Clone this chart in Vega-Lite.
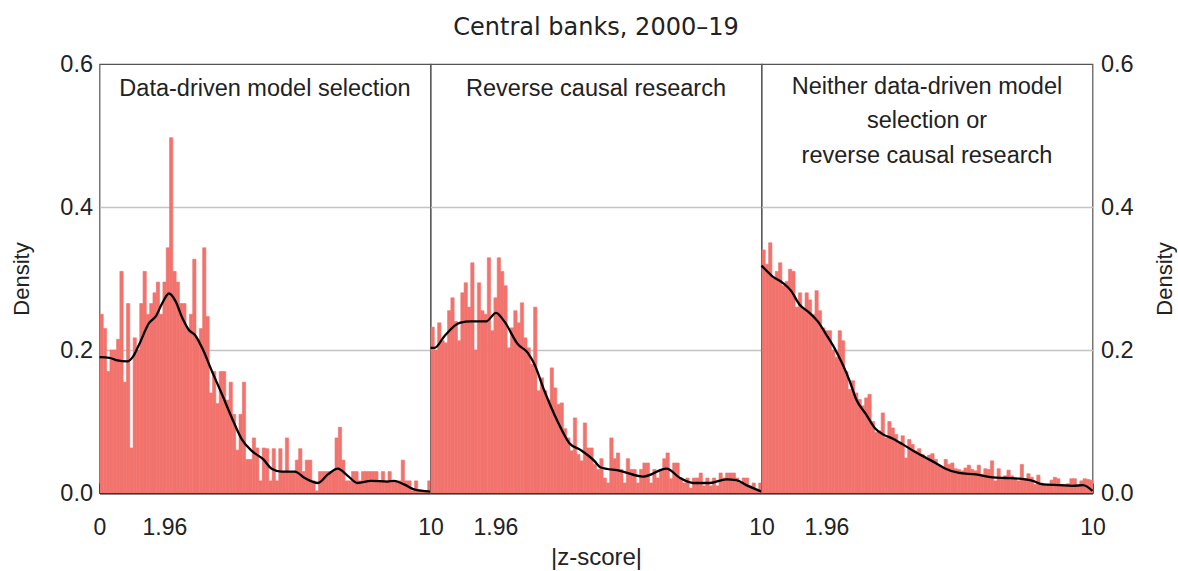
{
"$schema": "https://vega.github.io/schema/vega-lite/v6.json",
"padding": {"left": 9.5, "top": 16, "right": 0, "bottom": 0},
"background": "white",
"bounds": "flush",
"title": {"text": "Central banks, 2000–19", "font": "DejaVu Sans", "fontSize": 24, "fontWeight": "normal", "color": "#222", "anchor": "middle", "offset": 11, "dx": 3},
"spacing": 0,
"config": {"view": {"stroke": "#555", "strokeWidth": 1.2}, "font": "Liberation Sans", "axis": {"labelColor": "#222", "titleColor": "#222", "labelFont": "Liberation Sans", "titleFont": "Liberation Sans"}},
"datasets": {
"bars": [
{"p":"A","z":0.0,"d":0.25},{"p":"A","z":0.1,"d":0.23},{"p":"A","z":0.2,"d":0.17},{"p":"A","z":0.3,"d":0.2},{"p":"A","z":0.4,"d":0.2},{"p":"A","z":0.5,"d":0.215},{"p":"A","z":0.6,"d":0.31},{"p":"A","z":0.7,"d":0.155},{"p":"A","z":0.8,"d":0.265},{"p":"A","z":0.9,"d":0.063},
{"p":"A","z":1.0,"d":0.217},{"p":"A","z":1.1,"d":0.2},{"p":"A","z":1.2,"d":0.265},{"p":"A","z":1.3,"d":0.31},{"p":"A","z":1.4,"d":0.25},{"p":"A","z":1.5,"d":0.265},{"p":"A","z":1.6,"d":0.28},{"p":"A","z":1.7,"d":0.295},{"p":"A","z":1.8,"d":0.25},{"p":"A","z":1.9,"d":0.295},
{"p":"A","z":2.0,"d":0.343},{"p":"A","z":2.1,"d":0.497},{"p":"A","z":2.2,"d":0.31},{"p":"A","z":2.3,"d":0.295},{"p":"A","z":2.4,"d":0.265},{"p":"A","z":2.5,"d":0.265},{"p":"A","z":2.6,"d":0.23},{"p":"A","z":2.7,"d":0.25},{"p":"A","z":2.8,"d":0.327},{"p":"A","z":2.9,"d":0.215},
{"p":"A","z":3.0,"d":0.23},{"p":"A","z":3.1,"d":0.343},{"p":"A","z":3.2,"d":0.247},{"p":"A","z":3.3,"d":0.14},{"p":"A","z":3.4,"d":0.17},{"p":"A","z":3.5,"d":0.125},{"p":"A","z":3.6,"d":0.17},{"p":"A","z":3.7,"d":0.17},{"p":"A","z":3.8,"d":0.13},{"p":"A","z":3.9,"d":0.155},
{"p":"A","z":4.0,"d":0.11},{"p":"A","z":4.1,"d":0.06},{"p":"A","z":4.2,"d":0.11},{"p":"A","z":4.3,"d":0.155},{"p":"A","z":4.4,"d":0.047},{"p":"A","z":4.5,"d":0.047},{"p":"A","z":4.6,"d":0.077},{"p":"A","z":4.7,"d":0.063},{"p":"A","z":4.8,"d":0.017},{"p":"A","z":4.9,"d":0.063},
{"p":"A","z":5.0,"d":0.062},{"p":"A","z":5.1,"d":0.017},{"p":"A","z":5.2,"d":0.062},{"p":"A","z":5.3,"d":0.017},{"p":"A","z":5.4,"d":0.062},{"p":"A","z":5.5,"d":0.03},{"p":"A","z":5.6,"d":0.077},{"p":"A","z":5.7,"d":0.03},{"p":"A","z":5.8,"d":0.03},{"p":"A","z":5.9,"d":0.046},
{"p":"A","z":6.0,"d":0.062},{"p":"A","z":6.1,"d":0.03},{"p":"A","z":6.2,"d":0.046},{"p":"A","z":6.3,"d":0.046},{"p":"A","z":6.4,"d":0.017},{"p":"A","z":6.5,"d":0.003},{"p":"A","z":6.6,"d":0.03},{"p":"A","z":6.7,"d":0.03},{"p":"A","z":6.8,"d":0.03},{"p":"A","z":6.9,"d":0.03},
{"p":"A","z":7.0,"d":0.03},{"p":"A","z":7.1,"d":0.077},{"p":"A","z":7.2,"d":0.092},{"p":"A","z":7.3,"d":0.046},{"p":"A","z":7.4,"d":0.017},{"p":"A","z":7.5,"d":0.017},{"p":"A","z":7.6,"d":0.03},{"p":"A","z":7.7,"d":0.03},{"p":"A","z":7.8,"d":0.017},{"p":"A","z":7.9,"d":0.03},
{"p":"A","z":8.0,"d":0.03},{"p":"A","z":8.1,"d":0.03},{"p":"A","z":8.2,"d":0.03},{"p":"A","z":8.3,"d":0.03},{"p":"A","z":8.4,"d":0.017},{"p":"A","z":8.5,"d":0.03},{"p":"A","z":8.6,"d":0.017},{"p":"A","z":8.7,"d":0.03},{"p":"A","z":8.8,"d":0.017},{"p":"A","z":8.9,"d":0.017},
{"p":"A","z":9.0,"d":0.017},{"p":"A","z":9.1,"d":0.046},{"p":"A","z":9.2,"d":0.017},{"p":"A","z":9.3,"d":0.017},{"p":"A","z":9.4,"d":0.003},{"p":"A","z":9.5,"d":0.017},{"p":"A","z":9.6,"d":0.003},{"p":"A","z":9.7,"d":0.003},{"p":"A","z":9.8,"d":0.003},{"p":"A","z":9.9,"d":0.017},
{"p":"B","z":0.0,"d":0.232},{"p":"B","z":0.1,"d":0.2},{"p":"B","z":0.2,"d":0.238},{"p":"B","z":0.3,"d":0.213},{"p":"B","z":0.4,"d":0.21},{"p":"B","z":0.5,"d":0.255},{"p":"B","z":0.6,"d":0.273},{"p":"B","z":0.7,"d":0.24},{"p":"B","z":0.8,"d":0.213},{"p":"B","z":0.9,"d":0.28},
{"p":"B","z":1.0,"d":0.294},{"p":"B","z":1.1,"d":0.26},{"p":"B","z":1.2,"d":0.322},{"p":"B","z":1.3,"d":0.2},{"p":"B","z":1.4,"d":0.294},{"p":"B","z":1.5,"d":0.255},{"p":"B","z":1.6,"d":0.25},{"p":"B","z":1.7,"d":0.329},{"p":"B","z":1.8,"d":0.227},{"p":"B","z":1.9,"d":0.273},
{"p":"B","z":2.0,"d":0.329},{"p":"B","z":2.1,"d":0.31},{"p":"B","z":2.2,"d":0.29},{"p":"B","z":2.3,"d":0.203},{"p":"B","z":2.4,"d":0.231},{"p":"B","z":2.5,"d":0.255},{"p":"B","z":2.6,"d":0.238},{"p":"B","z":2.7,"d":0.266},{"p":"B","z":2.8,"d":0.217},{"p":"B","z":2.9,"d":0.203},
{"p":"B","z":3.0,"d":0.18},{"p":"B","z":3.1,"d":0.26},{"p":"B","z":3.2,"d":0.143},{"p":"B","z":3.3,"d":0.161},{"p":"B","z":3.4,"d":0.143},{"p":"B","z":3.5,"d":0.13},{"p":"B","z":3.6,"d":0.175},{"p":"B","z":3.7,"d":0.147},{"p":"B","z":3.8,"d":0.124},{"p":"B","z":3.9,"d":0.126},
{"p":"B","z":4.0,"d":0.09},{"p":"B","z":4.1,"d":0.077},{"p":"B","z":4.2,"d":0.059},{"p":"B","z":4.3,"d":0.105},{"p":"B","z":4.4,"d":0.054},{"p":"B","z":4.5,"d":0.045},{"p":"B","z":4.6,"d":0.098},{"p":"B","z":4.7,"d":0.063},{"p":"B","z":4.8,"d":0.063},{"p":"B","z":4.9,"d":0.04},
{"p":"B","z":5.0,"d":0.033},{"p":"B","z":5.1,"d":0.048},{"p":"B","z":5.2,"d":0.021},{"p":"B","z":5.3,"d":0.014},{"p":"B","z":5.4,"d":0.077},{"p":"B","z":5.5,"d":0.048},{"p":"B","z":5.6,"d":0.056},{"p":"B","z":5.7,"d":0.033},{"p":"B","z":5.8,"d":0.014},{"p":"B","z":5.9,"d":0.048},
{"p":"B","z":6.0,"d":0.033},{"p":"B","z":6.1,"d":0.033},{"p":"B","z":6.2,"d":0.014},{"p":"B","z":6.3,"d":0.033},{"p":"B","z":6.4,"d":0.042},{"p":"B","z":6.5,"d":0.042},{"p":"B","z":6.6,"d":0.014},{"p":"B","z":6.7,"d":0.033},{"p":"B","z":6.8,"d":0.021},{"p":"B","z":6.9,"d":0.033},
{"p":"B","z":7.0,"d":0.048},{"p":"B","z":7.1,"d":0.056},{"p":"B","z":7.2,"d":0.02},{"p":"B","z":7.3,"d":0.042},{"p":"B","z":7.4,"d":0.042},{"p":"B","z":7.5,"d":0.021},{"p":"B","z":7.6,"d":0.014},{"p":"B","z":7.7,"d":0.021},{"p":"B","z":7.8,"d":0.007},{"p":"B","z":7.9,"d":0.021},
{"p":"B","z":8.0,"d":0.021},{"p":"B","z":8.1,"d":0.028},{"p":"B","z":8.2,"d":0.01},{"p":"B","z":8.3,"d":0.021},{"p":"B","z":8.4,"d":0.01},{"p":"B","z":8.5,"d":0.021},{"p":"B","z":8.6,"d":0.01},{"p":"B","z":8.7,"d":0.028},{"p":"B","z":8.8,"d":0.021},{"p":"B","z":8.9,"d":0.028},
{"p":"B","z":9.0,"d":0.028},{"p":"B","z":9.1,"d":0.028},{"p":"B","z":9.2,"d":0.021},{"p":"B","z":9.3,"d":0.014},{"p":"B","z":9.4,"d":0.021},{"p":"B","z":9.5,"d":0.021},{"p":"B","z":9.6,"d":0.01},{"p":"B","z":9.7,"d":0.014},{"p":"B","z":9.8,"d":0.005},{"p":"B","z":9.9,"d":0.014},
{"p":"C","z":0.0,"d":0.34},{"p":"C","z":0.1,"d":0.32},{"p":"C","z":0.2,"d":0.35},{"p":"C","z":0.3,"d":0.3},{"p":"C","z":0.4,"d":0.31},{"p":"C","z":0.5,"d":0.322},{"p":"C","z":0.6,"d":0.29},{"p":"C","z":0.7,"d":0.296},{"p":"C","z":0.8,"d":0.313},{"p":"C","z":0.9,"d":0.31},
{"p":"C","z":1.0,"d":0.26},{"p":"C","z":1.1,"d":0.28},{"p":"C","z":1.2,"d":0.257},{"p":"C","z":1.3,"d":0.28},{"p":"C","z":1.4,"d":0.27},{"p":"C","z":1.5,"d":0.25},{"p":"C","z":1.6,"d":0.283},{"p":"C","z":1.7,"d":0.255},{"p":"C","z":1.8,"d":0.231},{"p":"C","z":1.9,"d":0.227},
{"p":"C","z":2.0,"d":0.227},{"p":"C","z":2.1,"d":0.2},{"p":"C","z":2.2,"d":0.19},{"p":"C","z":2.3,"d":0.227},{"p":"C","z":2.4,"d":0.213},{"p":"C","z":2.5,"d":0.17},{"p":"C","z":2.6,"d":0.145},{"p":"C","z":2.7,"d":0.157},{"p":"C","z":2.8,"d":0.14},{"p":"C","z":2.9,"d":0.131},
{"p":"C","z":3.0,"d":0.122},{"p":"C","z":3.1,"d":0.133},{"p":"C","z":3.2,"d":0.138},{"p":"C","z":3.3,"d":0.1},{"p":"C","z":3.4,"d":0.085},{"p":"C","z":3.5,"d":0.087},{"p":"C","z":3.6,"d":0.112},{"p":"C","z":3.7,"d":0.077},{"p":"C","z":3.8,"d":0.1},{"p":"C","z":3.9,"d":0.091},
{"p":"C","z":4.0,"d":0.082},{"p":"C","z":4.1,"d":0.07},{"p":"C","z":4.2,"d":0.08},{"p":"C","z":4.3,"d":0.049},{"p":"C","z":4.4,"d":0.075},{"p":"C","z":4.5,"d":0.068},{"p":"C","z":4.6,"d":0.059},{"p":"C","z":4.7,"d":0.062},{"p":"C","z":4.8,"d":0.054},{"p":"C","z":4.9,"d":0.05},
{"p":"C","z":5.0,"d":0.053},{"p":"C","z":5.1,"d":0.055},{"p":"C","z":5.2,"d":0.047},{"p":"C","z":5.3,"d":0.038},{"p":"C","z":5.4,"d":0.035},{"p":"C","z":5.5,"d":0.047},{"p":"C","z":5.6,"d":0.04},{"p":"C","z":5.7,"d":0.042},{"p":"C","z":5.8,"d":0.034},{"p":"C","z":5.9,"d":0.033},
{"p":"C","z":6.0,"d":0.031},{"p":"C","z":6.1,"d":0.035},{"p":"C","z":6.2,"d":0.039},{"p":"C","z":6.3,"d":0.033},{"p":"C","z":6.4,"d":0.031},{"p":"C","z":6.5,"d":0.039},{"p":"C","z":6.6,"d":0.026},{"p":"C","z":6.7,"d":0.034},{"p":"C","z":6.8,"d":0.033},{"p":"C","z":6.9,"d":0.045},
{"p":"C","z":7.0,"d":0.017},{"p":"C","z":7.1,"d":0.034},{"p":"C","z":7.2,"d":0.021},{"p":"C","z":7.3,"d":0.024},{"p":"C","z":7.4,"d":0.032},{"p":"C","z":7.5,"d":0.024},{"p":"C","z":7.6,"d":0.021},{"p":"C","z":7.7,"d":0.017},{"p":"C","z":7.8,"d":0.04},{"p":"C","z":7.9,"d":0.02},
{"p":"C","z":8.0,"d":0.027},{"p":"C","z":8.1,"d":0.022},{"p":"C","z":8.2,"d":0.012},{"p":"C","z":8.3,"d":0.025},{"p":"C","z":8.4,"d":0.014},{"p":"C","z":8.5,"d":0.012},{"p":"C","z":8.6,"d":0.012},{"p":"C","z":8.7,"d":0.018},{"p":"C","z":8.8,"d":0.022},{"p":"C","z":8.9,"d":0.02},
{"p":"C","z":9.0,"d":0.012},{"p":"C","z":9.1,"d":0.012},{"p":"C","z":9.2,"d":0.013},{"p":"C","z":9.3,"d":0.02},{"p":"C","z":9.4,"d":0.02},{"p":"C","z":9.5,"d":0.01},{"p":"C","z":9.6,"d":0.017},{"p":"C","z":9.7,"d":0.02},{"p":"C","z":9.8,"d":0.019},{"p":"C","z":9.9,"d":0.018}
],
"curve": [
{"p":"A","z":0,"d":0.19},{"p":"A","z":0.3,"d":0.189},{"p":"A","z":0.5,"d":0.186},{"p":"A","z":0.85,"d":0.184},{"p":"A","z":1.0,"d":0.19},{"p":"A","z":1.2,"d":0.208},{"p":"A","z":1.5,"d":0.238},{"p":"A","z":1.7,"d":0.247},{"p":"A","z":1.9,"d":0.266},{"p":"A","z":2.1,"d":0.279},{"p":"A","z":2.3,"d":0.268},{"p":"A","z":2.5,"d":0.245},{"p":"A","z":2.7,"d":0.228},{"p":"A","z":2.9,"d":0.22},{"p":"A","z":3.1,"d":0.203},{"p":"A","z":3.4,"d":0.17},{"p":"A","z":3.7,"d":0.138},{"p":"A","z":4.0,"d":0.105},{"p":"A","z":4.3,"d":0.075},{"p":"A","z":4.6,"d":0.059},{"p":"A","z":4.95,"d":0.047},{"p":"A","z":5.2,"d":0.034},{"p":"A","z":5.5,"d":0.03},{"p":"A","z":5.9,"d":0.03},{"p":"A","z":6.2,"d":0.021},{"p":"A","z":6.6,"d":0.014},{"p":"A","z":6.9,"d":0.026},{"p":"A","z":7.2,"d":0.034},{"p":"A","z":7.5,"d":0.024},{"p":"A","z":7.8,"d":0.014},{"p":"A","z":8.2,"d":0.017},{"p":"A","z":8.7,"d":0.016},{"p":"A","z":8.9,"d":0.017},{"p":"A","z":9.2,"d":0.012},{"p":"A","z":9.5,"d":0.005},{"p":"A","z":10,"d":0.002},
{"p":"B","z":0,"d":0.203},{"p":"B","z":0.12,"d":0.203},{"p":"B","z":0.43,"d":0.22},{"p":"B","z":0.88,"d":0.238},{"p":"B","z":1.23,"d":0.24},{"p":"B","z":1.68,"d":0.24},{"p":"B","z":1.98,"d":0.252},{"p":"B","z":2.23,"d":0.24},{"p":"B","z":2.64,"d":0.208},{"p":"B","z":2.94,"d":0.196},{"p":"B","z":3.14,"d":0.18},{"p":"B","z":3.44,"d":0.143},{"p":"B","z":3.84,"d":0.1},{"p":"B","z":4.19,"d":0.07},{"p":"B","z":4.54,"d":0.06},{"p":"B","z":4.95,"d":0.045},{"p":"B","z":5.13,"d":0.036},{"p":"B","z":5.73,"d":0.031},{"p":"B","z":6.43,"d":0.023},{"p":"B","z":7.13,"d":0.034},{"p":"B","z":7.54,"d":0.021},{"p":"B","z":7.94,"d":0.014},{"p":"B","z":8.44,"d":0.014},{"p":"B","z":8.94,"d":0.019},{"p":"B","z":9.24,"d":0.018},{"p":"B","z":9.54,"d":0.011},{"p":"B","z":10,"d":0.002},
{"p":"C","z":0,"d":0.318},{"p":"C","z":0.33,"d":0.303},{"p":"C","z":0.64,"d":0.294},{"p":"C","z":0.89,"d":0.283},{"p":"C","z":1.14,"d":0.264},{"p":"C","z":1.45,"d":0.252},{"p":"C","z":1.7,"d":0.24},{"p":"C","z":1.95,"d":0.222},{"p":"C","z":2.2,"d":0.203},{"p":"C","z":2.45,"d":0.18},{"p":"C","z":2.66,"d":0.157},{"p":"C","z":2.86,"d":0.131},{"p":"C","z":3.16,"d":0.11},{"p":"C","z":3.42,"d":0.091},{"p":"C","z":3.67,"d":0.082},{"p":"C","z":3.97,"d":0.076},{"p":"C","z":4.27,"d":0.068},{"p":"C","z":4.58,"d":0.059},{"p":"C","z":4.98,"d":0.049},{"p":"C","z":5.26,"d":0.042},{"p":"C","z":5.56,"d":0.034},{"p":"C","z":5.97,"d":0.028},{"p":"C","z":6.47,"d":0.026},{"p":"C","z":6.98,"d":0.022},{"p":"C","z":7.38,"d":0.021},{"p":"C","z":7.79,"d":0.02},{"p":"C","z":8.19,"d":0.017},{"p":"C","z":8.5,"d":0.012},{"p":"C","z":9.0,"d":0.011},{"p":"C","z":9.4,"d":0.01},{"p":"C","z":9.71,"d":0.011},{"p":"C","z":10,"d":0.003}
]
},
"hconcat": [
{
"width": 331, "height": 429,
"layer": [
{"data": {"name": "bars"}, "transform": [{"filter": "datum.p === 'A'"}],
 "mark": {"type": "bar", "color": "#f2736d", "stroke": "#f2736d", "strokeWidth": 0.6, "binSpacing": 0},
 "encoding": {
  "x": {"field": "z", "type": "quantitative", "bin": {"binned": true, "step": 0.1}, "scale": {"domain": [0, 10], "nice": false, "zero": false},
   "axis": {"values": [0, 1.96, 10], "labelExpr": "datum.value === 0 ? '0' : datum.value === 10 ? '10' : '1.96'", "title": null, "grid": false, "domainColor": "#111", "domainWidth": 2, "tickColor": "#111", "tickWidth": 1.5, "tickSize": -10, "labelPadding": 33, "labelFontSize": 23, "labelOverlap": false, "labelFlush": false}},
  "y": {"field": "d", "type": "quantitative", "scale": {"domain": [0, 0.6], "nice": false},
   "axis": {"orient": "left", "values": [0, 0.2, 0.4, 0.6], "format": ".1f", "title": "Density", "grid": true, "gridColor": "#c4c4c4", "gridWidth": 1.3, "gridOpacity": {"condition": {"test": "datum.value > 0.01 && datum.value < 0.59", "value": 1}, "value": 0}, "domain": false, "ticks": false, "labelFontSize": 23.5, "labelPadding": 7, "titleFontSize": 22, "titleFontWeight": "normal", "titlePadding": 26}}
 }},
{"data": {"name": "curve"}, "transform": [{"filter": "datum.p === 'A'"}],
 "mark": {"type": "line", "color": "#000", "strokeWidth": 2.3, "interpolate": "monotone"},
 "encoding": {"x": {"field": "z", "type": "quantitative"}, "y": {"field": "d", "type": "quantitative"}}},
{"data": {"values": [{"label": "Data-driven model selection"}]},
 "mark": {"type": "text", "font": "Liberation Sans", "fontSize": 23.5, "color": "#222", "baseline": "middle", "align": "center"},
 "encoding": {"x": {"datum": 5}, "y": {"datum": 0.565}, "text": {"field": "label"}}}
]
},
{
"width": 331, "height": 429,
"layer": [
{"data": {"name": "bars"}, "transform": [{"filter": "datum.p === 'B'"}],
 "mark": {"type": "bar", "color": "#f2736d", "stroke": "#f2736d", "strokeWidth": 0.6, "binSpacing": 0},
 "encoding": {
  "x": {"field": "z", "type": "quantitative", "bin": {"binned": true, "step": 0.1}, "scale": {"domain": [0, 10], "nice": false, "zero": false},
   "axis": {"values": [1.96, 10], "labelExpr": "datum.value === 10 ? '10' : '1.96'", "title": "|z-score|", "titleFontSize": 24, "titleFontWeight": "normal", "titlePadding": 6, "grid": false, "domainColor": "#111", "domainWidth": 2, "tickColor": "#111", "tickWidth": 1.5, "tickSize": -10, "labelPadding": 33, "labelFontSize": 23, "labelOverlap": false, "labelFlush": false}},
  "y": {"field": "d", "type": "quantitative", "scale": {"domain": [0, 0.6], "nice": false},
   "axis": {"values": [0, 0.2, 0.4, 0.6], "title": null, "labels": false, "grid": true, "gridColor": "#c4c4c4", "gridWidth": 1.3, "gridOpacity": {"condition": {"test": "datum.value > 0.01 && datum.value < 0.59", "value": 1}, "value": 0}, "domain": false, "ticks": false}}
 }},
{"data": {"name": "curve"}, "transform": [{"filter": "datum.p === 'B'"}],
 "mark": {"type": "line", "color": "#000", "strokeWidth": 2.3, "interpolate": "monotone"},
 "encoding": {"x": {"field": "z", "type": "quantitative"}, "y": {"field": "d", "type": "quantitative"}}},
{"data": {"values": [{"label": "Reverse causal research"}]},
 "mark": {"type": "text", "font": "Liberation Sans", "fontSize": 23.5, "color": "#222", "baseline": "middle", "align": "center"},
 "encoding": {"x": {"datum": 5}, "y": {"datum": 0.565}, "text": {"field": "label"}}}
]
},
{
"width": 331, "height": 429,
"layer": [
{"data": {"name": "bars"}, "transform": [{"filter": "datum.p === 'C'"}],
 "mark": {"type": "bar", "color": "#f2736d", "stroke": "#f2736d", "strokeWidth": 0.6, "binSpacing": 0},
 "encoding": {
  "x": {"field": "z", "type": "quantitative", "bin": {"binned": true, "step": 0.1}, "scale": {"domain": [0, 10], "nice": false, "zero": false},
   "axis": {"values": [1.96, 10], "labelExpr": "datum.value === 10 ? '10' : '1.96'", "title": null, "grid": false, "domainColor": "#111", "domainWidth": 2, "tickColor": "#111", "tickWidth": 1.5, "tickSize": -10, "labelPadding": 33, "labelFontSize": 23, "labelOverlap": false, "labelFlush": false}},
  "y": {"field": "d", "type": "quantitative", "scale": {"domain": [0, 0.6], "nice": false},
   "axis": {"orient": "right", "values": [0, 0.2, 0.4, 0.6], "format": ".1f", "title": "Density", "titleAngle": 270, "grid": true, "gridColor": "#c4c4c4", "gridWidth": 1.3, "gridOpacity": {"condition": {"test": "datum.value > 0.01 && datum.value < 0.59", "value": 1}, "value": 0}, "domain": false, "ticks": false, "labelFontSize": 23.5, "labelPadding": 8, "titleFontSize": 22, "titleFontWeight": "normal", "titlePadding": 43}}
 }},
{"data": {"name": "curve"}, "transform": [{"filter": "datum.p === 'C'"}],
 "mark": {"type": "line", "color": "#000", "strokeWidth": 2.3, "interpolate": "monotone"},
 "encoding": {"x": {"field": "z", "type": "quantitative"}, "y": {"field": "d", "type": "quantitative"}}},
{"data": {"values": [{"label": ["Neither data-driven model", "selection or", "reverse causal research"]}]},
 "mark": {"type": "text", "font": "Liberation Sans", "fontSize": 23.5, "color": "#222", "baseline": "middle", "align": "center", "lineHeight": 34.5},
 "encoding": {"x": {"datum": 5}, "y": {"datum": 0.568}, "text": {"field": "label"}}}
]
}
]
}
